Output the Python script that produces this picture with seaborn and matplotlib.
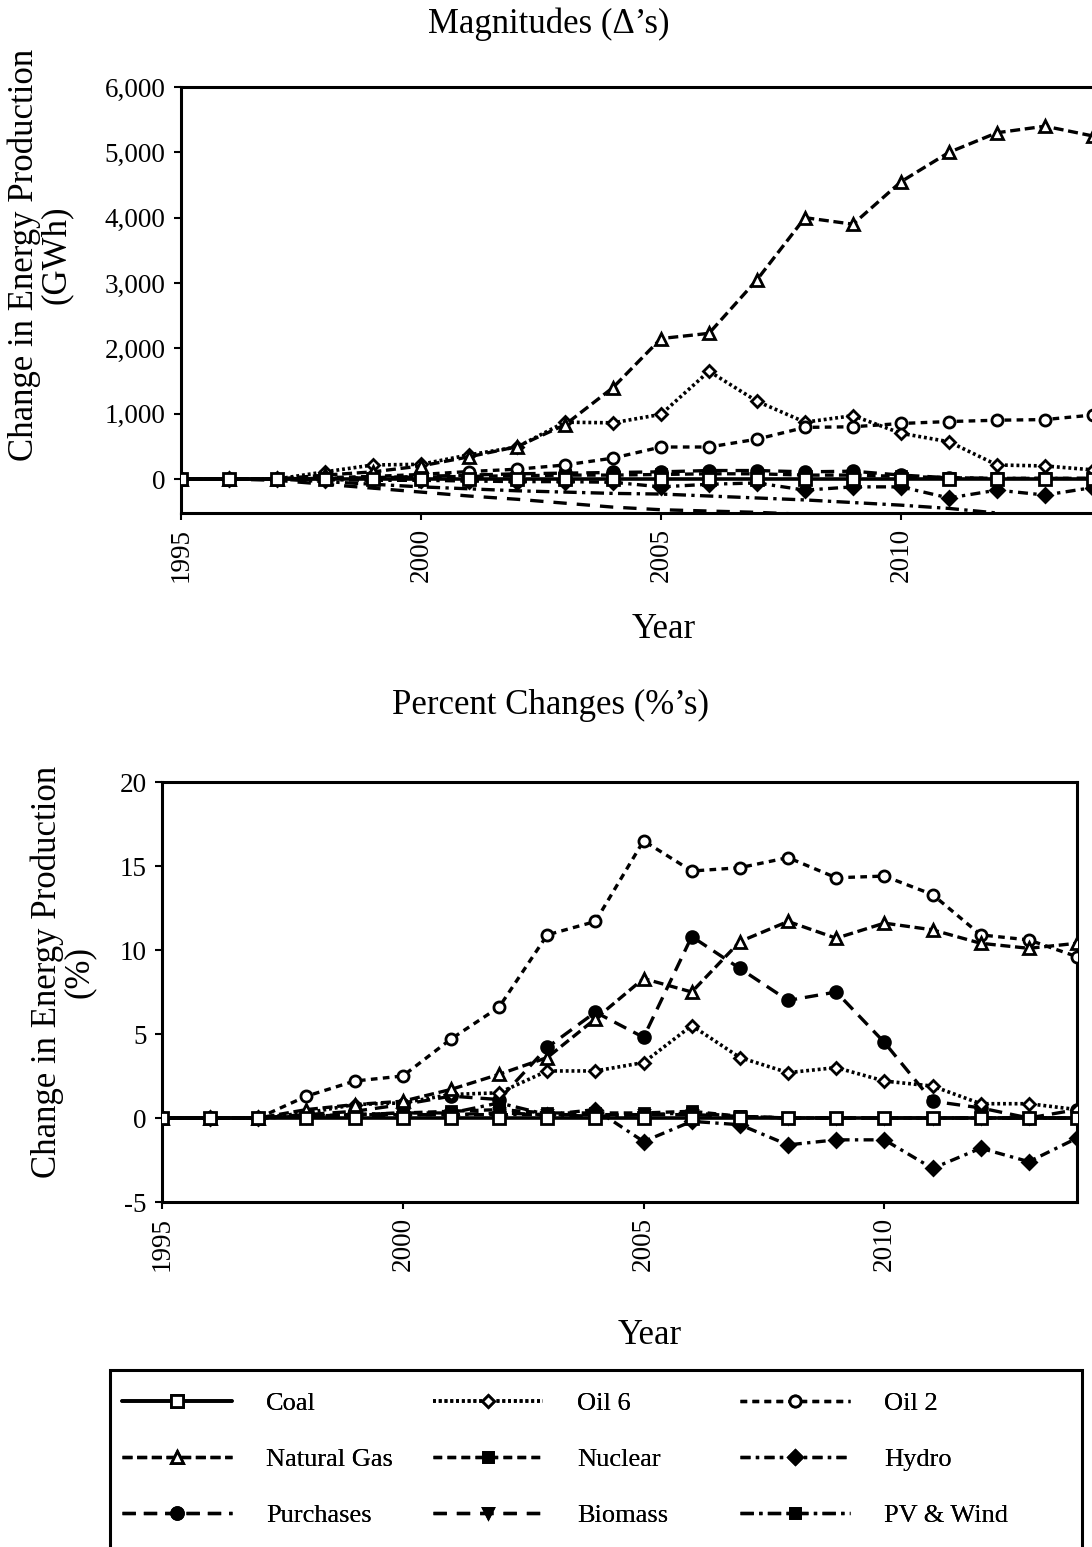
import numpy as np
import pandas as pd
import seaborn as sns
import matplotlib.pyplot as plt
from matplotlib.ticker import FuncFormatter, FixedLocator
from matplotlib.patches import Rectangle

sns.set_theme(style="white")
plt.rcParams['font.family'] = ['Liberation Serif', 'DejaVu Serif']
plt.rcParams['text.color'] = 'black'
plt.rcParams['axes.labelcolor'] = 'black'
plt.rcParams['xtick.color'] = 'black'
plt.rcParams['ytick.color'] = 'black'

# ---------------- data ----------------
years = list(range(1995, 2015))
years_short = list(range(1995, 2013))

# Top panel: magnitudes (GWh)
coal_gwh = [0] * 20
oil6_gwh = [0, 0, 0, 110, 215, 225, 370, 490, 870, 860, 990, 1650, 1190, 870, 970, 700, 570, 215, 200, 140]
oil2_gwh = [0, 0, 0, 20, 40, 70, 115, 150, 215, 320, 490, 490, 610, 790, 800, 850, 880, 900, 910, 980]
natgas_gwh = [0, 0, 0, 60, 110, 200, 340, 495, 830, 1400, 2150, 2230, 3050, 4000, 3900, 4550, 5000, 5300, 5400, 5250]
nuclear_gwh = [0, 0, 0, 10, 20, 30, 40, 50, 60, 60, 70, 80, 80, 60, 60, 40, 20, 10, 10, 10]
hydro_gwh = [0, 0, 0, -10, -20, -20, -30, -40, -40, -50, -120, -80, -60, -170, -120, -120, -290, -170, -245, -130]
purch_gwh = [0, 0, 0, 10, 20, 40, 60, 80, 90, 100, 110, 130, 130, 110, 120, 60, 20, 10, 10, 10]
biomass_gwh = [0, 0, -20, -80, -140, -200, -260, -310, -370, -430, -470, -490, -510, -540, -580, -600, -600, -560]
pvwind_gwh = [0, 0, 0, -40, -80, -120, -150, -180, -200, -220, -230, -260, -290, -320, -360, -400, -450, -520]

# Bottom panel: percent changes
coal_pct = [0] * 20
oil6_pct = [0, 0, 0, 0.3, 0.8, 0.9, 1.4, 1.5, 2.8, 2.8, 3.3, 5.5, 3.6, 2.7, 3.0, 2.2, 1.9, 0.85, 0.85, 0.5]
oil2_pct = [0, 0, 0, 1.3, 2.2, 2.5, 4.7, 6.6, 10.9, 11.7, 16.5, 14.7, 14.9, 15.5, 14.3, 14.4, 13.3, 10.9, 10.6, 9.6]
natgas_pct = [0, 0, 0, 0.5, 0.8, 1.0, 1.7, 2.6, 3.6, 5.9, 8.3, 7.5, 10.5, 11.7, 10.7, 11.6, 11.2, 10.4, 10.1, 10.4]
nuclear_pct = [0, 0, 0, 0.1, 0.2, 0.3, 0.4, 0.5, 0.3, 0.3, 0.3, 0.4, 0.1, 0, 0, 0, 0, 0, 0, 0]
hydro_pct = [0, 0, 0, 0.1, 0.2, 0.2, 0.2, 0.2, 0.2, 0.5, -1.4, -0.2, -0.4, -1.6, -1.3, -1.3, -3.0, -1.8, -2.6, -1.2]
purch_pct = [0, 0, 0, 0.2, 0.4, 0.8, 1.3, 1.1, 4.2, 6.3, 4.8, 10.8, 8.9, 7.0, 7.5, 4.5, 1.0, 0.6, 0.0, 0.5]
biomass_pct = [0, 0, 0, 0.1, 0.1, 0.2, 0.2, 0.3, 0.2, 0.2, 0.2, 0.2, 0.1, 0, 0, 0, 0, 0, 0, 0]
pvwind_pct = [0, 0, 0, 0.1, 0.2, 0.3, 0.3, 0.9, 0.2, 0.1, 0.2, 0.3, 0.1, 0, 0, 0, 0, 0, 0, 0]

series_names = ["Coal", "Oil 6", "Oil 2", "Natural Gas", "Nuclear", "Hydro",
                "Purchases", "Biomass", "PV & Wind"]

# ---------------- styles ----------------
STYLE = {
    "Coal": dict(linestyle="-", marker="s", markerfacecolor="white", markersize=8, linewidth=2.6, zorder=10),
    "Oil 6": dict(linestyle=(0, (0.8, 0.8)), marker="D", markerfacecolor="white", markersize=6.5, linewidth=2.6, zorder=6),
    "Oil 2": dict(linestyle=(0, (2.0, 1.6)), marker="o", markerfacecolor="white", markersize=8, linewidth=2.4, zorder=6),
    "Natural Gas": dict(linestyle=(0, (3.0, 1.4)), marker="^", markerfacecolor="white", markersize=8, linewidth=2.4, zorder=7),
    "Nuclear": dict(linestyle=(0, (2.6, 1.6)), marker="s", markerfacecolor="black", markersize=6.5, linewidth=2.4, zorder=5),
    "Hydro": dict(linestyle=(0, (3.0, 1.6, 1.0, 1.6)), marker="D", markerfacecolor="black", markersize=7, linewidth=2.4, zorder=5),
    "Purchases": dict(linestyle=(0, (4.0, 2.4)), marker="o", markerfacecolor="black", markersize=8.5, linewidth=2.4, zorder=5),
    "Biomass": dict(linestyle=(0, (4.0, 3.0)), marker="v", markerfacecolor="black", markersize=7.5, linewidth=2.4, zorder=4),
    "PV & Wind": dict(linestyle=(0, (4.0, 1.6, 1.0, 1.6)), marker="s", markerfacecolor="black", markersize=7, linewidth=2.4, zorder=4),
}

W, H = 1092, 1547
fig = plt.figure(figsize=(W / 100, H / 100), dpi=100)

TICK_FS = 19.5
LABEL_FS = 25


def fx(px):
    return px / W


def fy(py):
    return 1 - py / H


# ---------------- top panel ----------------
ax1 = fig.add_axes([fx(181), fy(513), (1102.6 - 181) / W, (513 - 87) / H])
top_data = [
    ("Coal", years, coal_gwh, True), ("Oil 6", years, oil6_gwh, True),
    ("Oil 2", years, oil2_gwh, True), ("Natural Gas", years, natgas_gwh, True),
    ("Nuclear", years, nuclear_gwh, True), ("Hydro", years, hydro_gwh, True),
    ("Purchases", years, purch_gwh, True), ("Biomass", years_short, biomass_gwh, False),
    ("PV & Wind", years_short, pvwind_gwh, False),
]
for name, xs, ys, with_marker in top_data:
    st = dict(STYLE[name])
    if not with_marker:
        st["marker"] = None
    sns.lineplot(x=xs, y=ys, ax=ax1, color="black", markeredgecolor="black",
                 markeredgewidth=2.0, legend=False, errorbar=None, sort=False, **st)

ax1.set_xlim(1995, 2014.2)
ax1.set_ylim(-520, 6000)
ax1.yaxis.set_major_locator(FixedLocator([0, 1000, 2000, 3000, 4000, 5000, 6000]))
ax1.yaxis.set_major_formatter(FuncFormatter(lambda v, p: f"{int(v):,}"))
ax1.xaxis.set_major_locator(FixedLocator([1995, 2000, 2005, 2010]))
ax1.xaxis.set_major_formatter(FuncFormatter(lambda v, p: f"{int(v)}"))
for s in ["left", "top", "bottom", "right"]:
    ax1.spines[s].set_color("black")
    ax1.spines[s].set_linewidth(2.2)
ax1.tick_params(axis="both", direction="out", length=5, width=1.5, color="black",
                labelcolor="black", left=True, bottom=True, labelsize=TICK_FS, pad=6)
for lab in ax1.get_xticklabels():
    lab.set_rotation(90)
ax1.set_xlabel("")
ax1.set_ylabel("")

# ---------------- bottom panel ----------------
ax2 = fig.add_axes([fx(162), fy(1202), (1077 - 162) / W, (1202 - 782) / H])
bottom_data = [
    ("PV & Wind", pvwind_pct), ("Biomass", biomass_pct), ("Purchases", purch_pct),
    ("Hydro", hydro_pct), ("Nuclear", nuclear_pct), ("Natural Gas", natgas_pct),
    ("Oil 2", oil2_pct), ("Oil 6", oil6_pct), ("Coal", coal_pct),
]
for name, ys in bottom_data:
    sns.lineplot(x=years, y=ys, ax=ax2, color="black", markeredgecolor="black",
                 markeredgewidth=2.0, legend=False, errorbar=None, sort=False,
                 label=name, **STYLE[name])

ax2.set_xlim(1995, 2014)
ax2.set_ylim(-5, 20)
ax2.yaxis.set_major_locator(FixedLocator([-5, 0, 5, 10, 15, 20]))
ax2.yaxis.set_major_formatter(FuncFormatter(lambda v, p: f"{int(v)}"))
ax2.xaxis.set_major_locator(FixedLocator([1995, 2000, 2005, 2010]))
ax2.xaxis.set_major_formatter(FuncFormatter(lambda v, p: f"{int(v)}"))
for s in ["left", "top", "bottom", "right"]:
    ax2.spines[s].set_color("black")
    ax2.spines[s].set_linewidth(2.2)
ax2.tick_params(axis="both", direction="out", length=5, width=1.5, color="black",
                labelcolor="black", left=True, bottom=True, labelsize=TICK_FS, pad=6)
for lab in ax2.get_xticklabels():
    lab.set_rotation(90)
ax2.set_xlabel("")
ax2.set_ylabel("")

# ---------------- texts ----------------
fig.text(fx(549), fy(24), "Magnitudes (\u0394\u2019s)", ha="center", va="center", fontsize=LABEL_FS)
fig.text(fx(550), fy(705), "Percent Changes (%\u2019s)", ha="center", va="center", fontsize=LABEL_FS)
fig.text(fx(664), fy(630), "Year", ha="center", va="center", fontsize=LABEL_FS)
fig.text(fx(650), fy(1335), "Year", ha="center", va="center", fontsize=LABEL_FS)
fig.text(fx(40), fy(255), "Change in Energy Production\n(GWh)", rotation=90,
         ha="center", va="center", multialignment="center", fontsize=LABEL_FS, linespacing=0.95)
fig.text(fx(63), fy(972), "Change in Energy Production\n(%)", rotation=90,
         ha="center", va="center", multialignment="center", fontsize=LABEL_FS, linespacing=0.95)

# ---------------- legend ----------------
handles, labels = ax2.get_legend_handles_labels()
hmap = dict(zip(labels, handles))
columns = [(122, ["Coal", "Natural Gas", "Purchases"]),
           (433, ["Oil 6", "Nuclear", "Biomass"]),
           (740, ["Oil 2", "Hydro", "PV & Wind"])]
LEG_FS = 19
for xpx, names in columns:
    leg = fig.legend([hmap[n] for n in names], names, loc="upper left",
                     bbox_to_anchor=(fx(xpx), fy(1392)), frameon=False,
                     fontsize=LEG_FS, handlelength=4.17, handletextpad=1.29,
                     labelspacing=1.22, borderpad=0, borderaxespad=0)
    for t in leg.get_texts():
        t.set_color("black")
    fig.add_artist(leg)

frame = Rectangle((fx(110), fy(1570)), (1082 - 110) / W, (1570 - 1370) / H,
                  transform=fig.transFigure, fill=False, edgecolor="black",
                  linewidth=2.2, clip_on=False)
fig.add_artist(frame)

fig.savefig("out.png", dpi=100)
